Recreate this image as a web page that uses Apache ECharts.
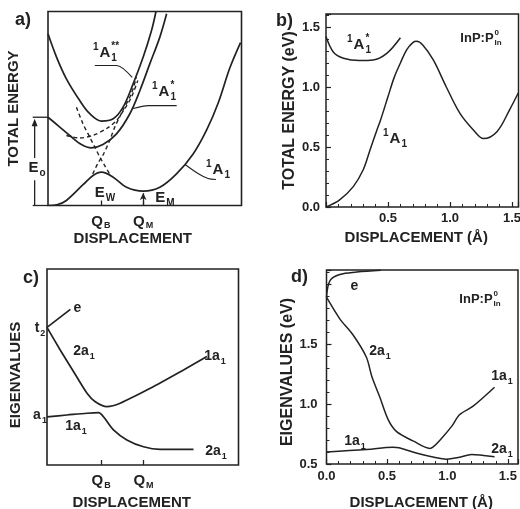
<!DOCTYPE html>
<html>
<head>
<meta charset="utf-8">
<script src="https://cdn.jsdelivr.net/npm/echarts@6/dist/echarts.min.js"></script>
<style>
  html, body { margin: 0; background: #fff; }
  #main { width: 520px; height: 509px; }
</style>
</head>
<body>
<div id="main"></div>
<script>
// ---- panel a: schematic total energy (arbitrary units 0..10) ----
const aLower = [[0.05, 0], [0.5, 0.05], [0.95, 0.26], [1.81, 1.07], [2.33, 1.55], [2.77, 1.72], [3.37, 1.46],
  [4.06, 0.94], [4.92, 0.74], [5.78, 0.94], [6.64, 1.63], [7.5, 2.66], [8.2, 3.9], [8.8, 5.3], [9.4, 7.1], [9.95, 8.4]]
const aStar2 = [[0, 8.85], [0.44, 7.65], [0.95, 6.53], [1.64, 5.41], [2.16, 4.73], [2.77, 4.35], [3.37, 4.47],
  [3.88, 5.07], [4.4, 6.27], [4.92, 7.65], [5.35, 9.02], [5.58, 10]]
const aStar1 = [[0, 4.55], [0.52, 4.12], [1.12, 3.61], [1.73, 3.14], [2.24, 2.97], [2.84, 3.14], [3.54, 3.69],
  [4.23, 4.73], [4.75, 5.93], [5.26, 7.3], [5.78, 8.68], [6.13, 9.88]]
const aDashA = [[1.47, 5.07], [1.8, 4.23], [2.16, 3.52], [2.42, 3.01], [2.68, 2.49], [2.93, 2.06], [3.19, 1.62]]
const aDashB = [[2.31, 1.62], [2.57, 2.16], [2.83, 2.58], [3.19, 3.35], [3.45, 4.04], [3.87, 4.9], [4.31, 5.77], [4.57, 6.61]]
const aDashC = [[0.95, 3.61], [1.64, 3.48], [2.31, 3.61], [3.03, 3.97], [3.54, 4.38], [3.97, 5.0], [4.31, 5.58], [4.64, 6.44]]
const aLeadStar2 = [[2.42, 7.22], [3.54, 7.22], [4.35, 6.6]]
const aLeadStar1 = [[4.4, 5.0], [5.18, 5.15], [6.65, 5.15]]
const aLead1 = [[7.1, 2.1], [7.75, 1.65], [8.27, 1.39], [8.68, 1.34]]
const aTicks = [2.73, 4.92]
const aTickNames = ['B', 'M']
const aE0 = 4.55
const aMinArrowTop = 0.64
// E0 bracket left of the frame: x of the end of the level lines, x of the arrow, gap hidden by the label
const aE0LineX = -0.79
const aE0ArrowX = -0.69
const aE0Gap = [1.3, 2.45]

// ---- panel b: InP:P_In total energy (eV) vs displacement (A) ----
const bA1 = [[0, 0], [0.11, 0.06], [0.22, 0.17], [0.3, 0.31], [0.355, 0.475], [0.41, 0.64], [0.44, 0.725],
  [0.5, 0.92], [0.55, 1.08], [0.6, 1.2], [0.65, 1.31], [0.7, 1.37], [0.73, 1.38], [0.78, 1.35], [0.865, 1.225],
  [0.97, 1.0], [1.08, 0.78], [1.19, 0.64], [1.27, 0.57], [1.38, 0.63], [1.48, 0.81], [1.55, 0.95]]
const bA1Star = [[0, 1.42], [0.06, 1.29], [0.14, 1.24], [0.27, 1.22], [0.38, 1.225], [0.49, 1.28], [0.6, 1.41]]
const bXLabels = [0.5, 1.0, 1.5]
const bYLabels = [0.0, 0.5, 1.0, 1.5]

// ---- panel c: schematic eigenvalues ----
const cE = [[0, 7.02], [1.22, 7.94]]
const cUpper = [[0, 7.02], [0.69, 5.87], [1.39, 4.76], [2.09, 3.66], [2.52, 3.23], [3.13, 2.98], [3.82, 3.15],
  [5.39, 3.91], [7.13, 4.85], [8.35, 5.53]]
const cLower = [[0, 2.46], [1.04, 2.55], [2.09, 2.64], [2.69, 2.67], [2.95, 2.46], [3.47, 1.79], [4.17, 1.28],
  [5.04, 0.93], [5.91, 0.8], [7.65, 0.8]]
const cTicks = [2.83, 5.04]

// ---- panel d: InP:P_In eigenvalues (eV) ----
const dE = [[0, 1.89], [0.03, 2.03], [0.11, 2.08], [0.25, 2.1], [0.45, 2.115]]
const dUpper = [[0, 1.89], [0.11, 1.71], [0.22, 1.575], [0.33, 1.39], [0.375, 1.23], [0.44, 1.06], [0.51, 0.87],
  [0.58, 0.77], [0.72, 0.69], [0.855, 0.63], [0.88, 0.64], [0.94, 0.7], [1.04, 0.82], [1.1, 0.91], [1.21, 0.98], [1.39, 1.14]]
const dLower = [[0, 0.6], [0.33, 0.62], [0.55, 0.64], [0.6, 0.635], [0.75, 0.59], [0.89, 0.556], [0.99, 0.54],
  [1.1, 0.556], [1.2, 0.58], [1.3, 0.57], [1.39, 0.56]]
const dXLabels = [0.0, 0.5, 1.0, 1.5]
const dYLabels = [0.5, 1.0, 1.5]

const FONT = '"Liberation Sans", Arial, Helvetica, sans-serif'
const INK = '#222'

// text measuring for the hand-set sub/superscript labels
const ctx = document.createElement('canvas').getContext('2d')
function tw(s, size) {
  ctx.font = `bold ${size}px ${FONT}`
  return ctx.measureText(s).width
}
function txt(t, x, y, size) {
  return {
    type: 'text', x, y, silent: true, z: 10,
    style: { text: t, fontSize: size, fontWeight: 'bold', fontFamily: FONT, fill: INK,
      align: 'left', verticalAlign: 'middle', textAlign: 'left', textVerticalAlign: 'middle' }
  }
}
// label like  ^pre BASE ^sup _sub  centred on (cx, cy)
function chem(cx, cy, pre, base, sup, sub, size) {
  const small = Math.round(size * 0.64)
  const wPre = pre ? tw(pre, small) + 1 : 0
  const wBase = tw(base, size)
  const wTail = Math.max(sup ? tw(sup, small) : 0, sub ? tw(sub, small) : 0)
  let x = cx - (wPre + wBase + 1 + wTail) / 2
  const out = []
  if (pre) out.push(txt(pre, x, cy - size * 0.4, small))
  x += wPre
  out.push(txt(base, x, cy, size))
  x += wBase + 1
  if (sup) out.push(txt(sup, x, cy - size * 0.42, small))
  if (sub) out.push(txt(sub, x, cy + size * 0.38, small))
  return out
}

function pick(list, digits) {
  return v => list.some(t => Math.abs(t - v) < 1e-6) ? v.toFixed(digits) : ''
}

// pad shifts a centred axis name: x names move left, rotated y names move down
function nameStyle(size, pad) {
  return { fontSize: size, fontWeight: 'bold', color: INK, fontFamily: FONT, padding: [0, pad || 0, 0, 0] }
}
const tickLabel = { fontSize: 13, fontWeight: 'bold', color: INK, fontFamily: FONT }

function schemX(idx, ticks, gap, pad) {
  return {
    gridIndex: idx, type: 'value', min: 0, max: 10,
    name: 'DISPLACEMENT', nameLocation: 'middle', nameGap: gap, nameTextStyle: nameStyle(15, pad),
    axisLine: { show: false }, splitLine: { show: false },
    axisTick: { show: true, inside: true, length: 5, customValues: ticks, lineStyle: { color: INK, width: 1.3 } },
    axisLabel: {
      show: true, margin: 7, customValues: ticks,
      formatter: v => 'Q{s|' + aTickNames[ticks.indexOf(v)] + '}',
      fontSize: 15, fontWeight: 'bold', color: INK, fontFamily: FONT, lineHeight: 18,
      rich: { s: { fontSize: 9, fontWeight: 'bold', color: INK, fontFamily: FONT, verticalAlign: 'bottom', lineHeight: 9, padding: [0, 0, 0, 1] } }
    }
  }
}
function schemY(idx, name, gap, pad) {
  return {
    gridIndex: idx, type: 'value', min: 0, max: 10,
    name, nameLocation: 'middle', nameRotate: 90, nameGap: gap, nameTextStyle: nameStyle(15, pad),
    axisLine: { show: false }, splitLine: { show: false }, axisTick: { show: false }, axisLabel: { show: false }
  }
}
function realAxis(idx, dim, min, max, labels, name, gap, margin, size, pad) {
  const ax = {
    gridIndex: idx, type: 'value', min, max, interval: 0.5,
    name, nameLocation: 'middle', nameGap: gap, nameTextStyle: nameStyle(size, pad),
    axisLine: { show: false }, splitLine: { show: false },
    axisTick: { show: true, inside: true, length: 5, lineStyle: { color: INK, width: 1.2 } },
    minorTick: { show: true, splitNumber: 5, length: 3, lineStyle: { color: INK, width: 1 } },
    axisLabel: Object.assign({ margin, formatter: pick(labels, 1), showMinLabel: true, showMaxLabel: true }, tickLabel)
  }
  if (dim === 'y') ax.nameRotate = 90
  return ax
}

function line(idx, data, extra) {
  return Object.assign({
    type: 'line', xAxisIndex: idx, yAxisIndex: idx, data, smooth: 0.35,
    showSymbol: false, symbol: 'none', silent: true, z: 3,
    lineStyle: { color: INK, width: 1.7 }
  }, extra || {})
}
const dash = { lineStyle: { color: INK, width: 1.4, type: [4, 3] }, smooth: 0.3 }
const thin = { lineStyle: { color: INK, width: 1.1 }, smooth: 0.3 }

function frame(left, top, width, height, bw) {
  return { left, top, width, height, show: true, borderColor: INK, borderWidth: bw,
    containLabel: false, outerBoundsMode: 'none' }
}

const chart = echarts.init(document.getElementById('main'), null, { renderer: 'canvas' })

const option = {
  animation: false,
  backgroundColor: '#fff',
  grid: [
    frame(48, 11.5, 193.5, 194, 1.6),
    frame(326, 14, 192.5, 193, 1.5),
    frame(47, 269, 191.5, 196, 1.6),
    frame(326.5, 270, 191.5, 194, 1.5)
  ],
  xAxis: [
    schemX(0, aTicks, 15, 24),
    realAxis(1, 'x', 0, 1.552, bXLabels, 'DISPLACEMENT (Å)', 23, 5, 15, 12),
    schemX(2, cTicks, 30, 22),
    realAxis(3, 'x', 0, 1.584, dXLabels, 'DISPLACEMENT (Å)', 31, 6, 15, 2)
  ],
  yAxis: [
    schemY(0, 'TOTAL ENERGY', 27, 0),
    realAxis(1, 'y', 0, 1.608, bYLabels, 'TOTAL ENERGY (eV)', 25, 6, 16, 0),
    schemY(2, 'EIGENVALUES', 24, 16),
    realAxis(3, 'y', 0.5, 2.117, dYLabels, 'EIGENVALUES (eV)', 27, 9, 16, 10)
  ],
  series: [
    // a
    line(0, aLower, {
      markLine: {
        silent: true, symbol: ['none', 'arrow'], symbolSize: [5, 7], label: { show: false },
        lineStyle: { color: INK, width: 1.2, type: 'solid' },
        data: [[{ coord: [aTicks[1], 0] }, { coord: [aTicks[1], aMinArrowTop] }]]
      }
    }),
    line(0, aStar2),
    line(0, aStar1),
    line(0, aDashA, dash),
    line(0, aDashB, dash),
    line(0, aDashC, dash),
    line(0, aLeadStar2, thin),
    line(0, aLeadStar1, thin),
    line(0, aLead1, thin),
    // b
    line(1, bA1, { lineStyle: { color: INK, width: 1.5 } }),
    line(1, bA1Star, { lineStyle: { color: INK, width: 1.5 } }),
    // c
    line(2, cE, { smooth: false }),
    line(2, cUpper, { smooth: 0.25 }),
    line(2, cLower, { smooth: 0.3 }),
    // d
    line(3, dE, { lineStyle: { color: INK, width: 1.5 } }),
    line(3, dUpper, { lineStyle: { color: INK, width: 1.5 }, smooth: 0.3 }),
    line(3, dLower, { lineStyle: { color: INK, width: 1.5 } })
  ]
}

chart.setOption(option)

// E0 bracket sits outside panel a's frame: place it through the panel's own scale
const px = p => chart.convertToPixel({ gridIndex: 0 }, p)
function seg(p, q, w) {
  const a = px(p), b = px(q)
  return { type: 'line', silent: true, z: 5, shape: { x1: a[0], y1: a[1], x2: b[0], y2: b[1] },
    style: { stroke: INK, lineWidth: w || 1.3 } }
}
const tip = px([aE0ArrowX, aE0])
const bracket = [
  seg([aE0LineX, aE0], [0, aE0]),
  seg([aE0LineX, 0], [0, 0]),
  seg([aE0ArrowX, 0], [aE0ArrowX, aE0Gap[0]]),
  seg([aE0ArrowX, aE0Gap[1]], [aE0ArrowX, aE0 - 0.2]),
  { type: 'polygon', silent: true, z: 5,
    shape: { points: [[tip[0], tip[1] + 1.5], [tip[0] - 3, tip[1] + 9], [tip[0] + 3, tip[1] + 9]] },
    style: { fill: INK } }
]

const labels = [
  txt('a)', 15, 20, 18),
  ...chem(106, 53, '1', 'A', '**', '1', 15),
  ...chem(164, 92, '1', 'A', '*', '1', 15),
  ...chem(218, 170, '1', 'A', null, '1', 15),
  ...chem(105, 193, null, 'E', null, 'W', 15),
  ...chem(165, 198, null, 'E', null, 'M', 15),
  ...chem(37, 168, null, 'E', null, 'o', 15),

  txt('b)', 276, 21, 18),
  ...chem(359, 45, '1', 'A', '*', '1', 15),
  ...chem(395, 139, '1', 'A', null, '1', 15),
  ...chem(481, 38, null, 'InP:P', '0', 'In', 13),

  txt('c)', 23, 278, 18),
  ...chem(40, 328, null, 't', null, '2', 14),
  ...chem(40, 415, null, 'a', null, '1', 14),
  ...chem(78, 308, null, 'e', null, null, 14),
  ...chem(84, 351, null, '2a', null, '1', 14),
  ...chem(215, 356, null, '1a', null, '1', 14),
  ...chem(76, 426, null, '1a', null, '1', 14),
  ...chem(216, 451, null, '2a', null, '1', 14),

  txt('d)', 291, 277, 18),
  ...chem(355, 286, null, 'e', null, null, 14),
  ...chem(480, 299, null, 'InP:P', '0', 'In', 13),
  ...chem(380, 351, null, '2a', null, '1', 14),
  ...chem(502, 376, null, '1a', null, '1', 14),
  ...chem(355, 441, null, '1a', null, '1', 14),
  ...chem(502, 449, null, '2a', null, '1', 14)
]

chart.setOption({ graphic: { elements: labels.concat(bracket) } })
</script>
</body>
</html>
